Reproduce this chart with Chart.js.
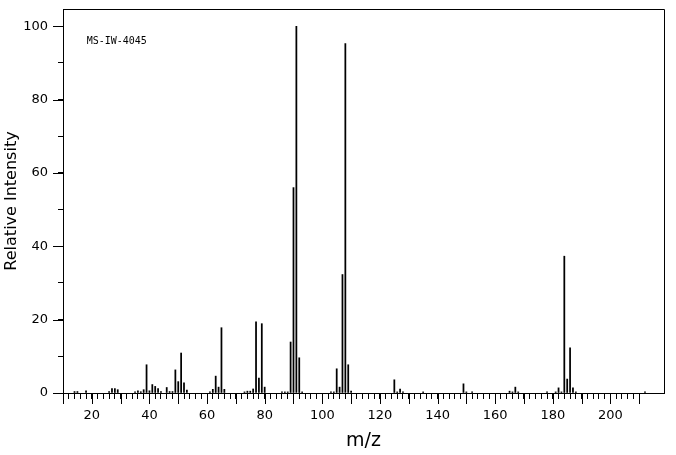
<!DOCTYPE html>
<html>
<head>
<meta charset="utf-8">
<script src="https://cdn.jsdelivr.net/npm/chart.js@4/dist/chart.umd.min.js"></script>
<style>
  html, body { margin: 0; padding: 0; background: #fff; }
  #wrap { width: 676px; height: 455px; }
</style>
</head>
<body>
<div id="wrap"><canvas id="c" width="676" height="455"></canvas></div>
<script>
// m/z values of the peaks
const mzValues = [14,15,18,26,27,28,29,35,36,37,38,39,40,41,42,43,44,46,47,48,49,50,51,52,53,
  61,62,63,64,65,66,73,74,75,76,77,78,79,80,86,87,88,89,90,91,92,93,
  103,104,105,106,107,108,109,110,125,126,127,128,135,149,150,152,
  165,166,167,168,178,181,182,183,184,185,186,187,188,212];
// relative intensities (%)
const intensities = [0.4,0.4,0.6,0.4,1.2,1.2,0.9,0.35,0.6,0.35,0.9,7.7,0.6,2.3,1.8,1.2,0.4,1.5,0.4,0.4,6.3,3.1,10.9,2.8,0.8,
  0.35,1.0,4.6,1.6,17.8,1.0,0.3,0.5,0.5,1.1,19.4,4.1,18.9,1.6,0.3,0.3,0.3,13.9,56.0,100,9.6,0.3,
  0.3,0.3,6.6,1.6,32.3,95.3,7.7,0.5,3.6,0.3,1.1,0.3,0.3,2.5,0.3,0.3,
  0.5,0.3,1.6,0.3,0.3,0.3,1.4,0.3,37.3,3.8,12.3,1.4,0.3,0.3];
// axis tick values
const xTickValues = [];
for (let v = 10; v <= 210; v += 2) xTickValues.push(v);
const xMajorTicks = [10,20,30,40,50,60,70,80,90,100,110,120,130,140,150,160,170,180,190,200,210];
const xLabelTicks = [20,40,60,80,100,120,140,160,180,200];
const yTickValues = [0,10,20,30,40,50,60,70,80,90,100];
const yLabelTicks = [0,20,40,60,80,100];
const spectrumId = 'MS-IW-4045';
const xTitle = 'm/z';
const yTitle = 'Relative Intensity';

const points = mzValues.map((m, i) => ({ x: m, y: intensities[i] }));

const framePlugin = {
  id: 'frameAndTicks',
  afterDraw(chart) {
    const { ctx, chartArea: a, scales: { x, y } } = chart;
    ctx.save();
    ctx.strokeStyle = '#000';
    ctx.lineWidth = 1;
    ctx.beginPath();
    // top and right frame
    ctx.moveTo(Math.round(a.left) + 0.5, Math.round(a.top) + 0.5);
    ctx.lineTo(Math.round(a.right) + 0.5, Math.round(a.top) + 0.5);
    ctx.lineTo(Math.round(a.right) + 0.5, Math.round(a.bottom) + 0.5);
    // long major ticks on x
    xMajorTicks.forEach(v => {
      const px = Math.round(x.getPixelForValue(v)) + 0.5;
      ctx.moveTo(px, Math.round(a.bottom));
      ctx.lineTo(px, Math.round(a.bottom) + 11);
    });
    // long major ticks on y
    yLabelTicks.forEach(v => {
      const py = Math.round(y.getPixelForValue(v)) + 0.5;
      ctx.moveTo(Math.round(a.left) + 1, py);
      ctx.lineTo(Math.round(a.left) - 10, py);
    });
    ctx.stroke();
    // spectrum id annotation
    ctx.fillStyle = '#000';
    ctx.font = '10px "DejaVu Sans Mono", "Liberation Mono", monospace';
    ctx.textBaseline = 'middle';
    ctx.textAlign = 'left';
    ctx.fillText(spectrumId, x.getPixelForValue(18.2), y.getPixelForValue(96));
    ctx.restore();
  }
};

const zeroPad = axis => {
  axis.paddingTop = 0; axis.paddingBottom = 0;
  axis.paddingLeft = 0; axis.paddingRight = 0;
};

new Chart(document.getElementById('c'), {
  type: 'bar',
  data: {
    datasets: [{
      data: points,
      backgroundColor: '#000',
      borderWidth: 0,
      barThickness: 1.1,
      grouped: false
    }]
  },
  options: {
    responsive: false,
    devicePixelRatio: 1,
    animation: false,
    layout: { padding: { left: 0, right: 12, top: 9, bottom: 0 } },
    plugins: { legend: { display: false }, tooltip: { enabled: false } },
    scales: {
      x: {
        type: 'linear',
        min: 10,
        max: 218.6,
        offset: false,
        afterBuildTicks: axis => { axis.ticks = xTickValues.map(v => ({ value: v })); },
        afterFit: axis => { axis.height = 62; zeroPad(axis); },
        grid: { display: true, drawOnChartArea: false, offset: false, color: '#000', tickLength: 6, tickWidth: 1 },
        border: { display: true, color: '#000', width: 1 },
        ticks: {
          autoSkip: false, maxRotation: 0, minRotation: 0, padding: 9,
          color: '#000',
          font: { family: '"DejaVu Sans", sans-serif', size: 13 },
          callback: v => (xLabelTicks.includes(v) ? String(v) : '')
        },
        title: {
          display: true, text: xTitle, color: '#000',
          font: { family: '"DejaVu Sans", sans-serif', size: 19 },
          padding: { top: 0, bottom: 3 }
        }
      },
      y: {
        type: 'linear',
        min: 0,
        max: 104.7,
        afterBuildTicks: axis => { axis.ticks = yTickValues.map(v => ({ value: v })); },
        afterFit: axis => { axis.width = 63; zeroPad(axis); },
        grid: { display: true, drawOnChartArea: false, color: '#000', tickLength: 5, tickWidth: 1 },
        border: { display: true, color: '#000', width: 1 },
        ticks: {
          autoSkip: false, padding: 10,
          color: '#000',
          font: { family: '"DejaVu Sans", sans-serif', size: 13 },
          callback: v => (yLabelTicks.includes(v) ? String(v) : '')
        },
        title: {
          display: true, text: yTitle, color: '#000',
          font: { family: '"DejaVu Sans", sans-serif', size: 16 },
          padding: { top: 2, bottom: 0 }
        }
      }
    }
  },
  plugins: [framePlugin]
});
</script>
</body>
</html>
